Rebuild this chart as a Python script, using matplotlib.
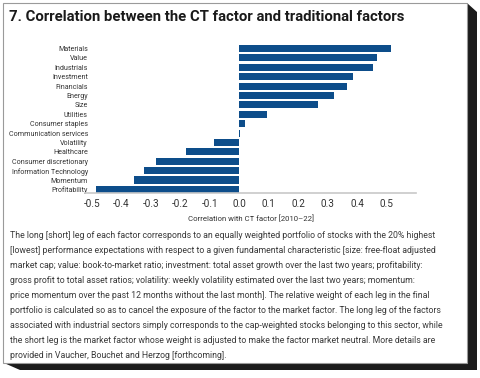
import matplotlib
matplotlib.use('Agg')
import matplotlib.pyplot as plt
from matplotlib.patches import Polygon, Rectangle

# data
factors = ['Materials', 'Value', 'Industrials', 'Investment', 'Financials', 'Energy',
           'Size', 'Utilities', 'Consumer staples', 'Communication services',
           'Volatility', 'Healthcare', 'Consumer discretionary',
           'Information Technology', 'Momentum', 'Profitability']
corr = [0.514, 0.466, 0.454, 0.384, 0.366, 0.320, 0.266, 0.094, 0.018, 0.002,
        -0.087, -0.181, -0.283, -0.323, -0.358, -0.487]
xticks = [-0.5, -0.4, -0.3, -0.2, -0.1, 0.0, 0.1, 0.2, 0.3, 0.4, 0.5]

title = '7. Correlation between the CT factor and traditional factors'
xlabel = 'Correlation with CT factor [2010\u201322]'
caption = [
    'The long [short] leg of each factor corresponds to an equally weighted portfolio of stocks with the 20% highest',
    '[lowest] performance expectations with respect to a given fundamental characteristic [size: free-float adjusted',
    'market cap; value: book-to-market ratio; investment: total asset growth over the last two years; profitability:',
    'gross profit to total asset ratios; volatility: weekly volatility estimated over the last two years; momentum:',
    'price momentum over the past 12 months without the last month]. The relative weight of each leg in the final',
    'portfolio is calculated so as to cancel the exposure of the factor to the market factor. The long leg of the factors',
    'associated with industrial sectors simply corresponds to the cap-weighted stocks belonging to this sector, while',
    'the short leg is the market factor whose weight is adjusted to make the factor market neutral. More details are',
    'provided in Vaucher, Bouchet and Herzog [forthcoming].',
]

W, H = 480, 378
font = ['Roboto', 'DejaVu Sans']

fig = plt.figure(figsize=(W / 100, H / 100), dpi=100)
renderer = fig.canvas.get_renderer()


def fx(x):
    return x / W


def fy(y):
    return 1 - y / H


def fit(txt, target):
    # shrink/grow font so the text is as wide as in the reference
    w = txt.get_window_extent(renderer).width
    txt.set_fontsize(txt.get_fontsize() * target / w)


# frame with dark shadow
shadow = [(467, 3), (477, 12), (477, 370), (20, 370), (4, 363), (467, 363)]
fig.add_artist(Polygon([(fx(x), fy(y)) for x, y in shadow], closed=True, zorder=-2,
                       transform=fig.transFigure, facecolor='#1c1c1c', edgecolor='none'))
fig.add_artist(Rectangle((fx(3), fy(363)), fx(464), 360 / H, transform=fig.transFigure,
                         zorder=-1, facecolor='white', edgecolor='#9a9a9a', linewidth=0.8))

t = fig.text(fx(9), fy(17), title, fontsize=11, fontweight='bold', family=font,
             color='#1a1a1a', va='center', ha='left')
fit(t, 397)

# chart
ax = fig.add_axes([fx(85), fy(193.5), fx(416 - 85), (193.5 - 44.3) / H])
ax.patch.set_alpha(0)
ypos = list(range(len(factors)))[::-1]
ax.barh(ypos, corr, height=0.76, color='#0d4d8a')
ax.set_xlim(-0.523, 0.599)
ax.set_ylim(-0.43, 15.45)
ax.set_yticks(ypos)
ylabs = ax.set_yticklabels(factors, family=font, fontsize=6.6, color='#333333')
ax.set_xticks(xticks)
xlabs = ax.set_xticklabels(['%.1f' % t for t in xticks], family=font, fontsize=7.2,
                           color='#333333')
ax.tick_params(axis='both', length=0)
ax.tick_params(axis='y', pad=-2)
ax.tick_params(axis='x', pad=4)
xl = ax.set_xlabel(xlabel, family=font, fontsize=7.2, color='#333333', labelpad=4)
for s in ['top', 'right', 'left']:
    ax.spines[s].set_visible(False)
ax.spines['bottom'].set_color('#c8c8c8')
ax.spines['bottom'].set_linewidth(1.2)

# 'Communication services' label width, slightly wider than the condensed original
w = ylabs[9].get_window_extent(renderer).width
fs = 6.6 * 79 / w
for lab in ylabs:
    lab.set_fontsize(fs)
fit(xl, 126)

# caption
lines = []
for i, line in enumerate(caption):
    lines.append(fig.text(fx(10), fy(235 + i * 15.1), line, fontsize=6.8, family=font,
                          color='#3a3a3a', va='center', ha='left'))
w = lines[0].get_window_extent(renderer).width
for tx in lines:
    tx.set_fontsize(6.8 * 433 / w)

fig.savefig('out.png', dpi=100)
